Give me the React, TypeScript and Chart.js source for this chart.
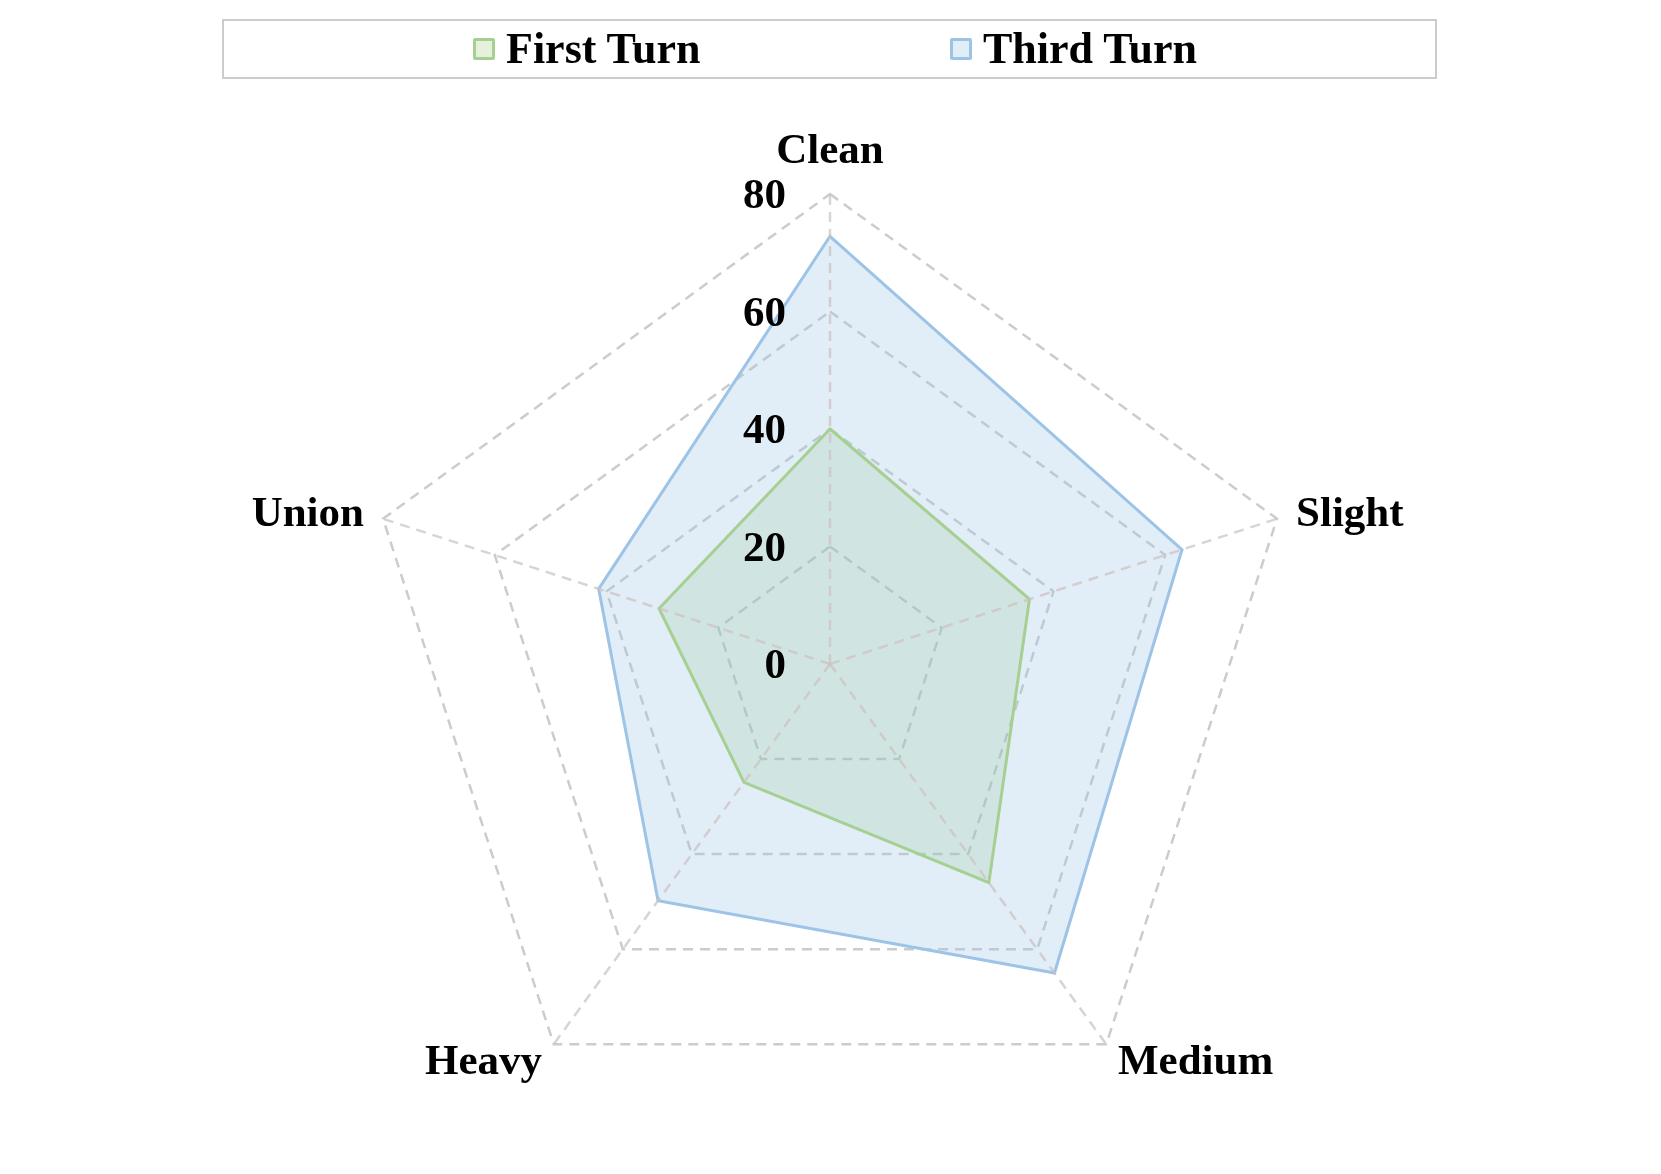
import React, { useEffect, useRef } from "react";
import { Chart, registerables } from "chart.js";

Chart.register(...registerables);

const categories = ["Clean", "Slight", "Medium", "Heavy", "Union"];
const firstTurn = [40, 35.7, 46, 24.9, 30.6];
const thirdTurn = [72.8, 63, 65, 49.8, 41.4];
const tickValues = [0, 20, 40, 60, 80];
const seriesNames = ["First Turn", "Third Turn"];

const FONT_FAMILY = "'Liberation Serif', 'Times New Roman', serif";
const FONT = `bold 43px ${FONT_FAMILY}`;

const GREEN = "rgb(166, 208, 146)";
const GREEN_FILL = "rgba(150, 200, 150, 0.22)";
const BLUE = "rgb(157, 195, 230)";
const BLUE_FILL = "rgba(157, 195, 230, 0.3)";
const ANGLE_LINE = "rgba(205, 192, 192, 0.72)";

const labelPlugin = {
  id: "customLabels",
  afterDatasetsDraw(chart: any) {
    const scale = chart.scales.r;
    const ctx = chart.ctx;
    const n = chart.data.labels.length;
    // angle lines drawn above the fills
    ctx.save();
    ctx.strokeStyle = ANGLE_LINE;
    ctx.lineWidth = 2.5;
    ctx.setLineDash([10, 7]);
    for (let i = 0; i < n; i++) {
      const outer = scale.getPointPosition(i, scale.getDistanceFromCenterForValue(scale.max));
      ctx.beginPath();
      ctx.moveTo(scale.xCenter, scale.yCenter);
      ctx.lineTo(outer.x, outer.y);
      ctx.stroke();
    }
    ctx.restore();

    ctx.save();
    ctx.font = FONT;
    ctx.fillStyle = "#000";
    ctx.textBaseline = "middle";
    const dy = 2;
    chart.data.labels.forEach((lab: string, i: number) => {
      const p = scale.getPointPosition(i, scale.drawingArea + 20);
      const deg = (i * 360) / n;
      let align = "center";
      let y = p.y;
      if (deg === 0) {
        y = p.y - 24;
      } else if (deg < 180) {
        align = "left";
      } else if (deg > 180) {
        align = "right";
      }
      ctx.textAlign = align;
      ctx.fillText(lab, p.x, y + dy);
    });
    ctx.textAlign = "right";
    scale.ticks.forEach((t: any) => {
      const d = scale.getDistanceFromCenterForValue(t.value);
      ctx.fillText(String(t.value), scale.xCenter - 44, scale.yCenter - d + dy + 1);
    });
    ctx.restore();
  },
};

function Swatch({ color, fill }: { color: string; fill: string }) {
  return (
    <span
      style={{
        display: "inline-block",
        width: 22,
        height: 22,
        boxSizing: "border-box",
        border: `3px solid ${color}`,
        background: fill,
        borderRadius: 2,
        marginRight: 11,
      }}
    />
  );
}

export default function App() {
  const ref = useRef<HTMLCanvasElement | null>(null);

  useEffect(() => {
    if (!ref.current) return;
    const chart = new Chart(ref.current, {
      type: "radar",
      data: {
        labels: categories,
        datasets: [
          {
            label: seriesNames[0],
            data: firstTurn,
            borderColor: GREEN,
            backgroundColor: GREEN_FILL,
            borderWidth: 3,
            pointRadius: 0,
            fill: true,
            tension: 0,
          },
          {
            label: seriesNames[1],
            data: thirdTurn,
            borderColor: BLUE,
            backgroundColor: BLUE_FILL,
            borderWidth: 3,
            pointRadius: 0,
            fill: true,
            tension: 0,
          },
        ],
      },
      options: {
        animation: false,
        responsive: true,
        maintainAspectRatio: false,
        events: [],
        layout: { padding: { top: 194, bottom: 40, left: 0, right: 0 } },
        plugins: {
          legend: { display: false },
          tooltip: { enabled: false },
        },
        scales: {
          r: {
            min: tickValues[0],
            max: tickValues[tickValues.length - 1],
            ticks: { display: false, stepSize: tickValues[1] - tickValues[0] },
            pointLabels: { display: false },
            grid: { color: "#cccccc", lineWidth: 2.5, circular: false },
            border: { dash: [10, 7] },
            angleLines: { display: false },
          },
        },
      },
      plugins: [labelPlugin],
    } as any);
    return () => chart.destroy();
  }, []);

  return (
    <div
      style={{
        position: "absolute",
        left: 0,
        top: 0,
        width: 1661,
        height: 1174,
        background: "#fff",
      }}
    >
      <canvas ref={ref} />
      <div
        style={{
          position: "absolute",
          left: 222,
          top: 19,
          width: 1215,
          height: 60,
          boxSizing: "border-box",
          border: "2px solid #cccccc",
          fontFamily: FONT_FAMILY,
          fontWeight: "bold",
          fontSize: 44,
          color: "#000",
        }}
      >
        <div
          style={{
            position: "absolute",
            left: 249,
            top: 0,
            height: 55,
            display: "flex",
            alignItems: "center",
            whiteSpace: "nowrap",
          }}
        >
          <Swatch color={GREEN} fill="rgba(169, 209, 142, 0.3)" />
          <span>{seriesNames[0]}</span>
        </div>
        <div
          style={{
            position: "absolute",
            left: 726,
            top: 0,
            height: 55,
            display: "flex",
            alignItems: "center",
            whiteSpace: "nowrap",
          }}
        >
          <Swatch color={BLUE} fill="rgba(157, 195, 230, 0.3)" />
          <span>{seriesNames[1]}</span>
        </div>
      </div>
    </div>
  );
}
